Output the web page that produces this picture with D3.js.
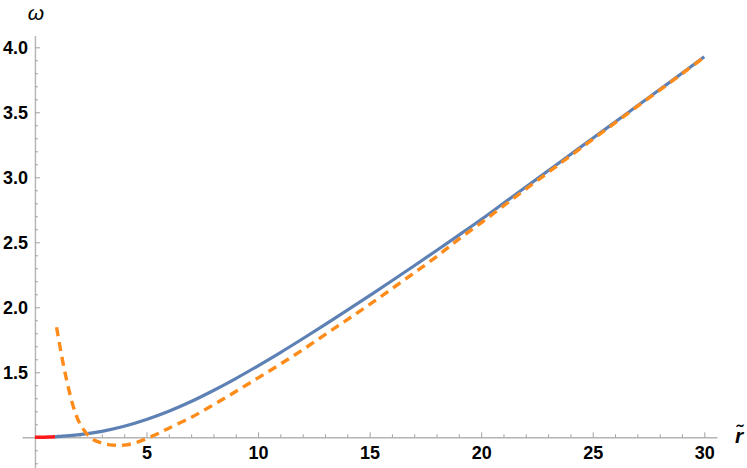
<!DOCTYPE html>
<html>
<head>
<meta charset="utf-8">
<script src="https://cdn.jsdelivr.net/npm/d3@7"></script>
<style>
  body { margin: 0; background: #fff; }
  svg { display: block; }
  .tick text { font-family: "Liberation Sans", Arial, sans-serif; font-weight: bold; font-size: 18px; fill: #000; }
</style>
</head>
<body>
<div id="chart"></div>
<script>
// values
var redX   = [0, 0.3, 0.6, 0.9];
var redY   = [1.0, 1.0005, 1.002, 1.004];

var blueX = [0.9, 2, 3, 4, 5, 6, 7, 8, 9, 10, 11, 12, 13, 14, 15, 16, 17, 18, 19, 20, 21, 22, 23, 24, 25, 26, 27, 28, 29, 30];
var blueY = [1.004, 1.02, 1.046, 1.085, 1.137, 1.2, 1.275, 1.36, 1.452, 1.55, 1.652, 1.758, 1.867, 1.978, 2.09, 2.204, 2.32, 2.437, 2.555, 2.675,
             2.8, 2.925, 3.05, 3.175, 3.3, 3.425, 3.55, 3.675, 3.8, 3.928];

var orangeX = [0.97, 1.25, 1.5, 1.75, 2, 2.5, 3, 3.5, 4, 4.5, 5, 5.5, 6, 7, 8, 9, 10, 11, 12, 13, 14, 15, 16, 17, 18, 19, 20,
               21, 22, 23, 24, 25, 26, 27, 28, 29, 30];
var orangeY = [1.846, 1.58, 1.38, 1.22, 1.11, 0.995, 0.955, 0.94, 0.94, 0.957, 0.99, 1.027, 1.07, 1.153, 1.25, 1.352, 1.457, 1.563,
               1.673, 1.79, 1.905, 2.022, 2.143, 2.265, 2.39, 2.525, 2.65, 2.78, 2.909, 3.037, 3.165, 3.292, 3.419, 3.545, 3.67, 3.796, 3.924];

var xMajor = [5, 10, 15, 20, 25, 30];
var yMajor = [1.5, 2.0, 2.5, 3.0, 3.5, 4.0];

var width = 747, height = 468;

var svg = d3.select("#chart")
  .append("svg")
  .attr("width", width)
  .attr("height", height);

var x = d3.scaleLinear().domain([-0.58, 30.57]).range([22, 717]);
var y = d3.scaleLinear().domain([0.76, 4.09]).range([468.5, 35.6]);

// minor ticks
var xMinor = d3.range(1, 31).filter(function(d){ return d % 5 !== 0; });
var yMinor = d3.range(8, 41).map(function(d){ return d / 10; }).filter(function(d){ return Math.round(d * 10) % 5 !== 0; });

var xAxisG = svg.append("g").attr("transform", "translate(0," + y(1) + ")");
xAxisG.call(d3.axisBottom(x).tickValues(xMajor).tickFormat(d3.format("d")).tickSize(-5).tickSizeOuter(0).tickPadding(9));
xAxisG.append("g").call(d3.axisBottom(x).tickValues(xMinor).tickFormat("").tickSize(-3).tickSizeOuter(0))
  .select(".domain").remove();

var yAxisG = svg.append("g").attr("transform", "translate(" + x(0) + ",0)");
yAxisG.call(d3.axisLeft(y).tickValues(yMajor).tickFormat(d3.format(".1f")).tickSize(-5).tickSizeOuter(0).tickPadding(7));
yAxisG.append("g").call(d3.axisLeft(y).tickValues(yMinor).tickFormat("").tickSize(-3).tickSizeOuter(0))
  .select(".domain").remove();

svg.selectAll(".domain").attr("stroke", "#b4b4b4").attr("stroke-width", 1.4);
svg.selectAll(".tick line").attr("stroke", "#a0a0a0").attr("stroke-width", 1);

// axis labels
svg.append("text")
  .attr("x", x(0) + 1)
  .attr("y", 20)
  .attr("text-anchor", "middle")
  .style("font-family", "Liberation Sans, Arial, sans-serif")
  .style("font-style", "italic")
  .style("font-size", "21px")
  .text("ω");

svg.append("text")
  .attr("x", 739)
  .attr("y", 443)
  .attr("text-anchor", "middle")
  .style("font-family", "Liberation Sans, Arial, sans-serif")
  .style("font-style", "italic")
  .style("font-weight", "bold")
  .style("font-size", "21px")
  .text("r\u0303");

var line = d3.line()
  .x(function(d){ return x(d[0]); })
  .y(function(d){ return y(d[1]); })
  .curve(d3.curveCatmullRom.alpha(0.5));

var blue = d3.zip(blueX, blueY);
var orange = d3.zip(orangeX, orangeY);
var red = d3.zip(redX, redY);

svg.append("path")
  .datum(blue)
  .attr("d", line)
  .attr("fill", "none")
  .attr("stroke", "#5e81b5")
  .attr("stroke-width", 3.2);

svg.append("path")
  .datum(orange)
  .attr("d", line)
  .attr("fill", "none")
  .attr("stroke", "#ff8c1a")
  .attr("stroke-width", 3.4)
  .attr("stroke-dasharray", "9,6");

svg.append("path")
  .datum(red)
  .attr("d", line)
  .attr("fill", "none")
  .attr("stroke", "#ff1a1a")
  .attr("stroke-width", 3.4);
</script>
</body>
</html>
